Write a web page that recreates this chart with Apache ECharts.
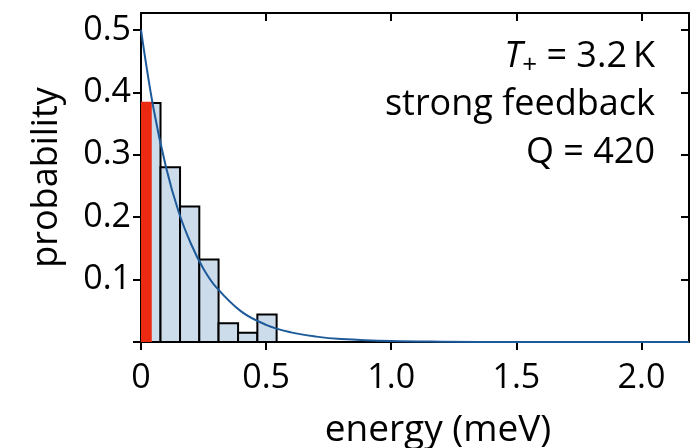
<!DOCTYPE html>
<html>
<head>
<meta charset="utf-8">
<script src="https://cdn.jsdelivr.net/npm/echarts@6/dist/echarts.min.js"></script>
<style>
  html, body { margin: 0; padding: 0; background: #fff; }
  #main { width: 690px; height: 448px; }
</style>
</head>
<body>
<div id="main"></div>
<script>
// histogram bins (energy in meV) and probabilities
var binStart = [0, 0.078, 0.156, 0.233, 0.310, 0.388, 0.465];
var binEnd   = [0.078, 0.156, 0.233, 0.310, 0.388, 0.465, 0.542];
var binProb  = [0.383, 0.280, 0.217, 0.132, 0.030, 0.015, 0.044];

// highlighted first bin (red)
var redStart = [0];
var redEnd   = [0.043];
var redProb  = [0.385];

// fitted curve
var curveE = [0, 0.05, 0.1, 0.15, 0.2, 0.25, 0.3, 0.4, 0.5, 0.6, 0.7, 0.8, 1.0, 1.2, 1.5, 2.19];
var curveP = [0.5, 0.374, 0.28, 0.209, 0.157, 0.117, 0.088, 0.049, 0.0275, 0.0154, 0.0086, 0.0048, 0.0015, 0.0005, 0.0001, 0];

var xTicks = [0, 0.5, 1.0, 1.5, 2.0];
var yTicks = [0.1, 0.2, 0.3, 0.4, 0.5];

var FONT = 'Open Sans';

function rects(s, e, p) {
  var out = [];
  for (var i = 0; i < s.length; i++) out.push([s[i], e[i], p[i]]);
  return out;
}

function barRender(fill, stroke, lw) {
  return function (params, api) {
    var a = api.coord([api.value(0), api.value(2)]);
    var b = api.coord([api.value(1), 0]);
    return {
      type: 'rect',
      shape: { x: a[0], y: a[1], width: b[0] - a[0], height: b[1] - a[1] },
      style: { fill: fill, stroke: stroke, lineWidth: lw }
    };
  };
}

var chart = echarts.init(document.getElementById('main'));

var axisLine = { show: true, onZero: false, lineStyle: { color: '#000', width: 2 } };
var tickOut = { show: true, length: 8, lineStyle: { color: '#000', width: 2 } };
var tickIn = { show: true, inside: true, length: 8, lineStyle: { color: '#000', width: 2 } };

var option = {
  animation: false,
  grid: { left: 141, right: 1, top: 13, bottom: 106, containLabel: false, outerBoundsMode: 'none' },
  xAxis: [
    {
      type: 'value', min: 0, max: 2.19, interval: 0.5,
      name: 'energy (meV)', nameLocation: 'middle', nameGap: 70,
      nameTextStyle: { fontFamily: FONT, fontSize: 37, color: '#000', padding: [0, 0, 0, 46] },
      axisLine: axisLine,
      axisTick: tickOut,
      axisLabel: {
        margin: 19, fontFamily: FONT, fontSize: 34, color: '#000', showMaxLabel: false,
        formatter: function (v) {
          if (xTicks.indexOf(v) < 0) return '';
          return v === 0 ? '0' : v.toFixed(1);
        }
      },
      splitLine: { show: false }
    },
    {
      type: 'value', position: 'top', min: 0, max: 2.19, interval: 0.5,
      axisLine: axisLine,
      axisTick: tickIn,
      axisLabel: { show: false },
      splitLine: { show: false }
    }
  ],
  yAxis: [
    {
      type: 'value', min: 0, max: 0.527, interval: 0.1,
      name: 'probability', nameLocation: 'middle', nameGap: 76,
      nameTextStyle: { fontFamily: FONT, fontSize: 36, color: '#000' },
      axisLine: axisLine,
      axisTick: tickOut,
      axisLabel: {
        margin: 10, fontFamily: FONT, fontSize: 34, color: '#000', showMaxLabel: false,
        formatter: function (v) {
          var r = Math.round(v * 10) / 10;
          if (yTicks.indexOf(r) < 0 || Math.abs(r - v) > 1e-6) return '';
          return r.toFixed(1);
        }
      },
      splitLine: { show: false }
    },
    {
      type: 'value', position: 'right', min: 0, max: 0.527, interval: 0.1,
      axisLine: axisLine,
      axisTick: tickIn,
      axisLabel: { show: false },
      splitLine: { show: false }
    }
  ],
  series: [
    {
      type: 'custom', name: 'histogram',
      renderItem: barRender('#cddceb', '#000', 2),
      encode: { x: [0, 1], y: 2 },
      data: rects(binStart, binEnd, binProb),
      z: 2
    },
    {
      type: 'custom', name: 'first bin',
      renderItem: barRender('#ec2a12', null, 0),
      encode: { x: [0, 1], y: 2 },
      data: rects(redStart, redEnd, redProb),
      z: 3
    },
    {
      type: 'line', name: 'fit',
      data: curveE.map(function (e, i) { return [e, curveP[i]]; }),
      smooth: 0.4, showSymbol: false,
      lineStyle: { color: '#1d5a99', width: 2 },
      z: 4
    }
  ],
  graphic: [
    {
      type: 'text', x: 655, y: 57,
      style: {
        text: '{i|T}{s|+}{n| = 3.2\u2009K}',
        align: 'right', verticalAlign: 'middle',
        rich: {
          i: { fontFamily: FONT, fontSize: 36, fontStyle: 'italic', lineHeight: 44, verticalAlign: 'middle', fill: '#000' },
          s: { fontFamily: FONT, fontSize: 26, lineHeight: 26, verticalAlign: 'bottom', fill: '#000' },
          n: { fontFamily: FONT, fontSize: 36, lineHeight: 44, verticalAlign: 'middle', fill: '#000' }
        }
      }
    },
    {
      type: 'text', x: 655, y: 105,
      style: { text: 'strong feedback', align: 'right', verticalAlign: 'middle', fontFamily: FONT, fontSize: 36, fill: '#000' }
    },
    {
      type: 'text', x: 655, y: 153,
      style: { text: 'Q = 420', align: 'right', verticalAlign: 'middle', fontFamily: FONT, fontSize: 36, fill: '#000' }
    }
  ]
};

chart.setOption(option);
</script>
</body>
</html>
